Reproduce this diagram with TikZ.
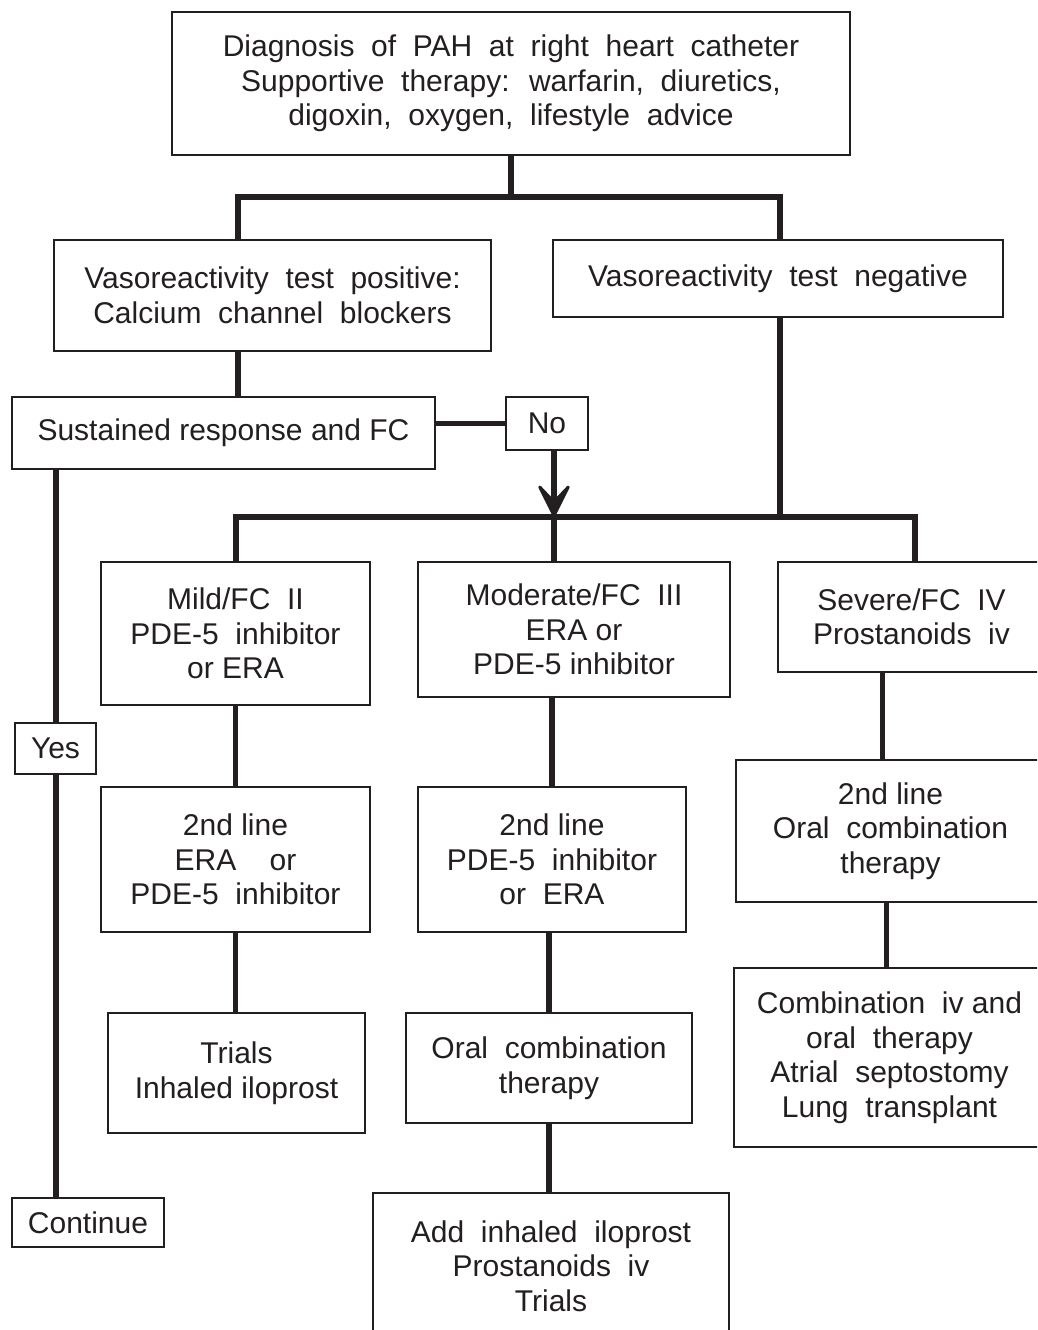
\documentclass[tikz,border=0pt]{standalone}
\usepackage{fontspec}
\setmainfont{Liberation Sans}
\usetikzlibrary{arrows.meta}
\definecolor{ink}{HTML}{231F20}

\begin{document}
\begin{tikzpicture}[
    x=1pt, y=-1pt,
    % Styles
    box/.style={% For the boxes
        rectangle,
        draw=ink,
        line width=1.7pt,
        inner sep=0pt,
        align=center,
        text=ink,
        font=\fontsize{30}{34.5}\selectfont,
        },
    conn/.style={% For the thick connectors
        draw=ink,
        line width=5.6pt,
        },
    ArrowD/.style={% Arrow down onto the bar
        conn,
        -{Stealth[length=40pt, width=40pt, inset=21pt, line width=3pt, round]},
        },
    ]

    \useasboundingbox (0,0) rectangle (1037,1330);
    \clip (0,0) rectangle (1037,1330);
    \fill[white] (0,0) rectangle (1037,1330);

    % Draw the boxes
    %top
    \node [box, minimum width=678pt, minimum height=143pt] (diag) at (511,83.5)
        {Diagnosis~ of~ PAH~ at~ right~ heart~ catheter\\
         Supportive~ therapy:~ warfarin,~ diuretics,\\
         digoxin,~ oxygen,~ lifestyle~ advice};
    %second row
    \node [box, minimum width=437pt, minimum height=111pt] (pos) at (272.5,295.5)
        {Vasoreactivity~ test~ positive:\\ Calcium~ channel~ blockers};
    \node [box, minimum width=450pt, minimum height=77pt] (neg) at (778,278.5)
        {Vasoreactivity~ test~ negative};
    %third row
    \node [box, minimum width=423pt, minimum height=72pt] (sust) at (223.5,433)
        {Sustained response and FC};
    \node [box, minimum width=82pt, minimum height=53pt] (no) at (547,423.5) {No};
    %severity row
    \node [box, minimum width=269pt, minimum height=143pt] (mild) at (235.5,633.5)
        {Mild/FC~ II\\ PDE-5~ inhibitor\\ or ERA};
    \node [box, minimum width=312pt, minimum height=135pt] (mod) at (574,629.5)
        {Moderate/FC~ III\\ ERA or\\ PDE-5 inhibitor};
    \node [box, minimum width=267pt, minimum height=110pt] (sev) at (911.5,617)
        {Severe/FC~ IV\\ Prostanoids~ iv};
    %second line row
    \node [box, minimum width=269pt, minimum height=145pt] (mild2) at (235.5,859.5)
        {2nd line\\ ERA~ ~ or\\ PDE-5~ inhibitor};
    \node [box, minimum width=268pt, minimum height=145pt] (mod2) at (552,859.5)
        {2nd line\\ PDE-5~ inhibitor\\ or~ ERA};
    \node [box, minimum width=309pt, minimum height=142pt] (sev2) at (890.5,831)
        {2nd line\\ Oral~ combination\\ therapy};
    %bottom rows
    \node [box, minimum width=257pt, minimum height=120pt] (trials) at (236.5,1073)
        {Trials\\ Inhaled iloprost};
    \node [box, minimum width=286pt, minimum height=110pt] (oral) at (549,1068)
        {Oral~ combination\\ therapy};
    \node [box, minimum width=311pt, minimum height=179pt] (comb) at (889.5,1057.5)
        {Combination~ iv and\\ oral~ therapy\\ Atrial~ septostomy\\ Lung~ transplant};
    \node [box, minimum width=356pt, minimum height=146pt] (add) at (551,1266)
        {Add~ inhaled~ iloprost\\ Prostanoids~ iv\\ Trials};
    %left column
    \node [box, minimum width=81pt, minimum height=51pt] (yes) at (55.5,748.5) {Yes};
    \node [box, minimum width=152pt, minimum height=49pt] (cont) at (88,1222.5) {Continue};

    % Junction points
    \coordinate (splitL) at (238,197);
    \coordinate (splitR) at (780,197);
    \coordinate (barL) at (236,517);
    \coordinate (barM) at (554,517);
    \coordinate (barR) at (915,517);
    \coordinate (yesx) at (56,469);

   % Draw Arrows
   % top split
    \draw [conn] (diag.south) -- (diag.south |- splitL);
    \draw [conn] (pos.north -| splitL) |- (splitR) -- (neg.north -| splitR);
    \draw [conn] (pos.south -| splitL) -- (sust.north -| splitL);
    \draw [conn] (no.west -| sust.east) -- (no.west);
    \draw [ArrowD] (no.south -| barM) -- (barM);

   % severity bar
    \draw [conn] (neg.south -| splitR) -- (splitR |- barR);
    \draw [conn] (mild.north -| barL) |- (barR) -- (sev.north -| barR);
    \draw [conn] (barM) -- (mod.north -| barM);

   % columns
    \draw [conn] (mild.south) -- (mild2.north);
    \draw [conn] (mild2.south) -- (trials.north -| mild2.south);
    \draw [conn] (mod.south -| mod2.north) -- (mod2.north);
    \draw [conn] (mod2.south -| oral.north) -- (oral.north);
    \draw [conn] (oral.south) -- (add.north -| oral.south);
    \draw [conn] ([xshift=-8pt]sev.south -| sev2.north) -- ([xshift=-8pt]sev2.north);
    \draw [conn] ([xshift=-4pt]sev2.south) -- ([xshift=-4pt]sev2.south |- comb.north);

   % yes branch
    \draw [conn] (yesx) -- (yes.north -| yesx);
    \draw [conn] (yes.south -| yesx) -- (cont.north -| yesx);

\end{tikzpicture}
\end{document}
